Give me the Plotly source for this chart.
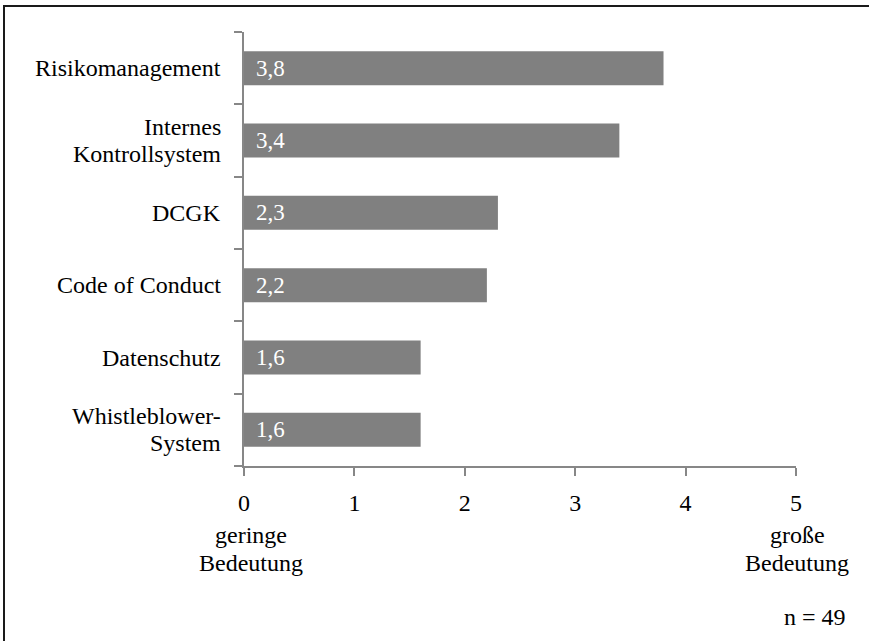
import plotly.graph_objects as go

categories = ["Risikomanagement", "Internes\nKontrollsystem", "DCGK", "Code of Conduct",
              "Datenschutz", "Whistleblower-\nSystem"]
values = [3.8, 3.4, 2.3, 2.2, 1.6, 1.6]
tick_vals = [0, 1, 2, 3, 4, 5]
tick_text = ["0", "1", "2", "3", "4", "5"]
low_label = "geringe\nBedeutung"
high_label = "große\nBedeutung"
n_note = "n = 49"

FONT = "Liberation Serif, Times New Roman, Tinos, serif"
AX = "#878787"

W, H = 869, 641
L, R, T, B = 244, 73, 32, 175
pw, ph = W - L - R, H - T - B

fig = go.Figure(go.Bar(
    x=values, y=categories, orientation="h",
    marker=dict(color="#808080", line=dict(width=0)),
    width=0.47, hoverinfo="skip"))

ann = []
# category labels (centered lines, right-anchored block)
for c in categories:
    lines = c.split("\n")
    n = len(lines)
    for i, ln in enumerate(lines):
        ann.append(dict(x=0, xref="paper", y=c, yref="y", text=ln, showarrow=False,
                        xanchor="right", yanchor="middle", xshift=-21,
                        yshift=(((n - 1) / 2 - i) * 27),
                        font=dict(family=FONT, size=24, color="black")))
# value labels
for c, v in zip(categories, values):
    ann.append(dict(x=0, xref="x", y=c, yref="y", text=f"{v:.1f}".replace(".", ","),
                    showarrow=False, xanchor="left", yanchor="middle", xshift=10,
                    font=dict(family=FONT, size=23, color="white")))
# axis end descriptions
for xv, txt, xs in [(0, low_label, 7), (5, high_label, 1)]:
    lines = txt.split("\n")
    for i, ln in enumerate(lines):
        ann.append(dict(x=xv, xref="x", y=(466 - (535 + 28 * i)) / ph, yref="paper",
                        text=ln, showarrow=False, xanchor="center", yanchor="middle",
                        xshift=xs, font=dict(family=FONT, size=24, color="black")))
ann.append(dict(x=(815 - L) / pw, xref="paper", y=(466 - 617) / ph, yref="paper",
                text=n_note, showarrow=False, xanchor="center", yanchor="middle",
                font=dict(family=FONT, size=24, color="black")))

fig.update_layout(
    width=W, height=H,
    margin=dict(l=L, r=R, t=T, b=B, pad=0),
    paper_bgcolor="white", plot_bgcolor="white",
    showlegend=False, annotations=ann,
    font=dict(family=FONT, size=24, color="black"),
    xaxis=dict(range=[0, 5], tickvals=tick_vals, ticktext=tick_text,
               showgrid=False, zeroline=False, showline=True, linecolor=AX, linewidth=1.5,
               ticks="outside", ticklen=8, tickcolor=AX, tickwidth=1.5, ticklabelstandoff=6,
               tickfont=dict(family=FONT, size=24, color="black"), fixedrange=True),
    yaxis=dict(categoryorder="array", categoryarray=categories[::-1],
               showticklabels=False, showgrid=False, zeroline=False,
               showline=True, linecolor=AX, linewidth=1.5,
               ticks="outside", ticklen=8, tickcolor=AX, tickwidth=1.5,
               tickson="boundaries", fixedrange=True),
    shapes=[dict(type="rect", xref="paper", yref="paper",
                 x0=(4 - L) / pw, x1=(W + 5 - L) / pw,
                 y0=(T + ph - (H + 5)) / ph, y1=(T + ph - 6) / ph,
                 line=dict(color="#1a1a1a", width=2), fillcolor="rgba(0,0,0,0)", layer="above")],
)

fig.write_html("out.html", config={"displayModeBar": False},
               post_script="document.body.style.margin='0';document.body.style.overflow='hidden';")
